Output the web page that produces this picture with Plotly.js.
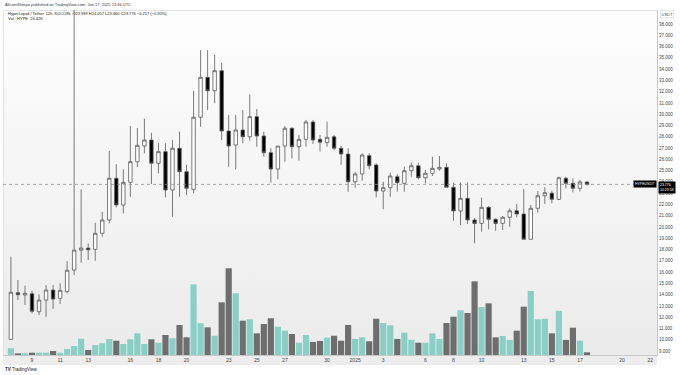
<!DOCTYPE html>
<html><head><meta charset="utf-8">
<script src="https://cdn.plot.ly/plotly-3.0.1.min.js"></script>
<style>
html,body{margin:0;padding:0;background:#fff;}
#wrap{position:relative;width:680px;height:375px;overflow:hidden;background:#fff;}
#pane{position:absolute;left:3px;top:10px;width:654px;height:345px;background:linear-gradient(#fefefe,#ebebeb);border-top:1px solid #e4e4e4;border-left:1px solid #e4e4e4;box-sizing:border-box;}
#strip{position:absolute;left:3px;top:355px;width:654px;height:10px;background:#ededed;}
#chart{position:absolute;left:0;top:0;width:680px;height:375px;}
</style></head>
<body><div id="wrap"><div id="pane"></div><div id="strip"></div><div id="chart"></div></div>
<script>
// 12h candles, HYPE/USDT (KuCoin)
const candleTimes = [
'2024-12-07 12:00',
'2024-12-08 00:00','2024-12-08 12:00','2024-12-09 00:00','2024-12-09 12:00','2024-12-10 00:00','2024-12-10 12:00',
'2024-12-11 00:00','2024-12-11 12:00','2024-12-12 00:00','2024-12-12 12:00','2024-12-13 00:00','2024-12-13 12:00',
'2024-12-14 00:00','2024-12-14 12:00','2024-12-15 00:00','2024-12-15 12:00','2024-12-16 00:00','2024-12-16 12:00',
'2024-12-17 00:00','2024-12-17 12:00','2024-12-18 00:00','2024-12-18 12:00','2024-12-19 00:00','2024-12-19 12:00',
'2024-12-20 00:00','2024-12-20 12:00','2024-12-21 00:00','2024-12-21 12:00','2024-12-22 00:00','2024-12-22 12:00',
'2024-12-23 00:00','2024-12-23 12:00','2024-12-24 00:00','2024-12-24 12:00','2024-12-25 00:00','2024-12-25 12:00',
'2024-12-26 00:00','2024-12-26 12:00','2024-12-27 00:00','2024-12-27 12:00','2024-12-28 00:00','2024-12-28 12:00',
'2024-12-29 00:00','2024-12-29 12:00','2024-12-30 00:00','2024-12-30 12:00','2024-12-31 00:00','2024-12-31 12:00',
'2025-01-01 00:00','2025-01-01 12:00','2025-01-02 00:00','2025-01-02 12:00','2025-01-03 00:00','2025-01-03 12:00',
'2025-01-04 00:00','2025-01-04 12:00','2025-01-05 00:00','2025-01-05 12:00','2025-01-06 00:00','2025-01-06 12:00',
'2025-01-07 00:00','2025-01-07 12:00','2025-01-08 00:00','2025-01-08 12:00','2025-01-09 00:00','2025-01-09 12:00',
'2025-01-10 00:00','2025-01-10 12:00','2025-01-11 00:00','2025-01-11 12:00','2025-01-12 00:00','2025-01-12 12:00',
'2025-01-13 00:00','2025-01-13 12:00','2025-01-14 00:00','2025-01-14 12:00','2025-01-15 00:00','2025-01-15 12:00',
'2025-01-16 00:00','2025-01-16 12:00','2025-01-17 00:00','2025-01-17 12:00'
];
const openP = [10.04,14.17,13.97,14.08,12.49,13.52,14.41,13.67,14.26,16.18,17.95,18.13,18.02,19.44,20.62,24.32,21.95,23.96,25.79,27.18,
27.71,25.65,26.68,23.28,26.98,24.90,23.34,29.73,33.27,32.08,33.86,28.51,27.27,28.60,28.00,29.78,28.07,26.59,25.14,27.18,
28.75,27.12,27.77,29.31,27.77,27.48,28.00,26.98,26.47,24.01,24.70,26.32,25.50,23.19,23.48,24.46,23.87,24.99,25.43,24.37,
24.76,25.14,25.29,23.52,21.42,22.54,20.62,20.32,21.74,20.68,20.32,20.86,21.44,21.15,18.91,21.66,22.77,23.00,22.45,24.32,
23.87,23.43,23.989];
const highP = [17.36,15.30,14.79,14.35,14.03,14.85,14.85,15.00,16.98,45.00,23.34,18.55,20.38,21.35,26.74,25.56,25.11,28.95,28.78,29.60,
28.36,27.47,27.42,27.71,28.45,25.50,32.06,35.69,35.69,35.25,34.57,29.93,29.93,30.37,31.77,30.46,28.45,26.98,27.18,28.95,
28.84,28.16,29.49,29.49,28.16,29.34,28.16,27.18,26.98,24.90,26.53,26.53,25.65,24.01,24.81,24.67,25.35,25.70,25.70,25.05,
26.23,26.29,25.65,23.93,23.96,23.96,20.77,22.60,21.86,20.77,20.97,21.66,22.04,23.34,21.95,23.19,23.52,23.22,24.46,24.46,
24.32,24.17,24.057];
const lowP = [10.00,13.52,13.08,12.34,12.19,12.04,12.73,13.17,14.12,15.74,16.83,17.07,17.01,19.14,20.32,21.74,21.21,22.68,25.32,26.53,
23.81,24.76,22.63,20.91,22.68,22.84,22.99,28.89,30.37,30.97,27.71,25.35,25.11,27.42,27.65,27.12,26.23,23.93,24.23,25.79,
26.09,25.88,27.12,27.36,26.68,27.12,26.83,25.50,23.13,23.48,24.10,25.11,22.63,21.57,22.68,23.13,23.13,24.46,24.23,23.87,
24.52,24.99,23.52,20.56,20.17,20.26,18.55,19.58,19.79,19.67,19.73,20.02,20.86,18.91,18.91,21.27,22.04,22.10,22.39,23.43,
23.07,23.13,23.660];
const closeP = [14.21,14.00,14.12,12.52,13.52,14.41,13.61,14.38,16.16,17.95,18.13,17.98,19.44,20.62,24.32,21.95,23.96,25.79,27.24,27.71,
25.65,26.68,23.28,26.98,24.90,23.43,29.73,33.27,32.08,33.86,28.51,27.18,28.60,28.00,29.78,28.07,26.59,25.14,27.18,28.75,
27.12,27.77,29.31,27.71,27.51,27.95,26.98,26.47,24.01,24.70,26.38,25.43,23.19,23.48,24.52,23.93,24.99,25.43,24.37,24.76,
25.20,25.29,23.52,21.42,22.54,20.62,20.32,21.74,20.68,20.32,20.86,21.44,21.15,18.91,21.66,22.77,23.04,22.45,24.37,23.87,
23.43,23.993,23.776];
// volume in thousands of HYPE
const volumeK = [61,15,15,21,21,21,36,21,54,81,147,45,90,106,145,129,99,142,196,99,
142,111,181,151,271,160,639,287,250,174,476,784,558,310,323,196,280,332,256,220,
190,111,181,118,127,156,174,129,271,145,160,124,328,289,268,145,202,138,111,111,
196,145,289,346,404,380,666,434,467,160,172,136,220,437,579,323,328,196,400,136,
247,129,24.42];

const tickDates = ['2024-12-09','2024-12-11','2024-12-13','2024-12-16','2024-12-18','2024-12-20','2024-12-23','2024-12-25','2024-12-27','2024-12-30',
'2025-01-01','2025-01-03','2025-01-06','2025-01-08','2025-01-10','2025-01-13','2025-01-15','2025-01-17','2025-01-20','2025-01-22'];
const tickLabels = ['9','11','13','16','18','20','23','25','27','30','2025','3','6','8','10','13','15','17','20','22'];
const priceTicks = [9,10,11,12,13,14,15,16,17,18,19,20,21,22,23,24,25,26,27,28,29,30,31,32,33,34,35,36,37,38];

const UP_VOL = '#89cfc5', DOWN_VOL = '#6e6e6e';
const volColors = closeP.map((c,i)=> c >= openP[i] ? UP_VOL : DOWN_VOL);
const n = closeP.length - 1;
const lastO = openP[n], lastH = highP[n], lastL = lowP[n], lastC = closeP[n];
const chg = lastC - closeP[n-1];
const pct = chg / closeP[n-1] * 100;
const fmt = v => v.toFixed(3);

const FONT = 'Liberation Sans, Arial, sans-serif';

const volTrace = {
  type:'bar', x:candleTimes, y:volumeK, xaxis:'x', yaxis:'y',
  marker:{color:volColors, line:{width:0}}, hoverinfo:'skip', showlegend:false
};
const candleTrace = {
  type:'candlestick', x:candleTimes, open:openP, high:highP, low:lowP, close:closeP,
  xaxis:'x', yaxis:'y2', whiskerwidth:0,
  increasing:{line:{color:'#5a5a5a', width:0.8}, fillcolor:'#ffffff'},
  decreasing:{line:{color:'#5a5a5a', width:0.8}, fillcolor:'#000000'},
  hoverinfo:'skip', showlegend:false
};

const layout = {
  width:680, height:375,
  margin:{l:3, r:23, t:10, b:20, pad:0},
  paper_bgcolor:'rgba(0,0,0,0)', plot_bgcolor:'rgba(0,0,0,0)',
  font:{family:FONT, color:'#333', size:5},
  showlegend:false, bargap:0.12,
  xaxis:{type:'date', range:['2024-12-06 22:28','2025-01-22 11:37'],
    tickmode:'array', tickvals:tickDates, ticktext:tickLabels,
    tickfont:{size:5, color:'#444', family:FONT}, ticks:'', showgrid:false, zeroline:false,
    showline:true, linecolor:'#c8c8c8', linewidth:1, rangeslider:{visible:false}, fixedrange:true},
  yaxis:{range:[0, 3119], visible:false, fixedrange:true},
  yaxis2:{overlaying:'y', side:'right', anchor:'x', range:[8.65, 39.24],
    tickmode:'array', tickvals:priceTicks, ticktext:priceTicks.map(v=>v.toFixed(3)),
    tickfont:{size:4.5, color:'#444', family:FONT}, ticks:'', showgrid:false, zeroline:false,
    showline:true, linecolor:'#c8c8c8', linewidth:1, fixedrange:true},
  shapes:[
    {type:'line', xref:'paper', x0:0, x1:1, yref:'y2', y0:lastC, y1:lastC,
     line:{color:'#8a8a8a', width:0.7, dash:'dot'}}
  ],
  annotations:[
    {xref:'paper', yref:'paper', x:0, y:1.0145, xanchor:'left', yanchor:'middle', showarrow:false,
     text:'AltcoinSherpa published on TradingView.com, Jan 17, 2025 13:36 UTC', font:{size:4, color:'#333', family:FONT}},
    {xref:'paper', yref:'paper', x:0.0046, y:0.9913, xanchor:'left', yanchor:'middle', showarrow:false,
     text:'HyperLiquid / Tether, 12h, KUCOIN  O'+fmt(lastO)+' H'+fmt(lastH)+' L'+fmt(lastL)+' C'+fmt(lastC)+
          ' '+(chg<0?'\u2212':'+')+Math.abs(chg).toFixed(3)+' ('+(pct<0?'\u2212':'+')+Math.abs(pct).toFixed(2)+'%)',
     font:{size:4, color:'#222', family:FONT}},
    {xref:'paper', yref:'paper', x:0.0046, y:0.974, xanchor:'left', yanchor:'middle', showarrow:false,
     text:'Vol \u00b7 HYPE  '+volumeK[n].toFixed(2)+'K', font:{size:4, color:'#222', family:FONT}},
    {xref:'paper', yref:'paper', x:1, y:0.988, xanchor:'left', yanchor:'middle', xshift:3, showarrow:false,
     text:'USDT', font:{size:4, color:'#444', family:FONT}, bordercolor:'#d0d0d0', borderwidth:0.5, borderpad:1, bgcolor:'#fff'},
    {xref:'paper', yref:'y2', x:1, y:lastC, xanchor:'right', yanchor:'middle', showarrow:false,
     text:'HYPEUSDT', font:{size:3.5, color:'#fff', family:FONT}, bgcolor:'#000', borderpad:1},
    {xref:'paper', yref:'y2', x:1, y:lastC, xanchor:'left', yanchor:'top', yshift:3, xshift:1, showarrow:false,
     text:fmt(lastC)+'<br>10:23:58', align:'left', font:{size:3.5, color:'#fff', family:FONT}, bgcolor:'#000', borderpad:1},
    {xref:'paper', yref:'paper', x:0, y:-0.0406, xanchor:'left', yanchor:'middle', showarrow:false,
     text:'<b>TV</b> TradingView', font:{size:4.5, color:'#222', family:FONT}}
  ]
};

Plotly.newPlot('chart', [volTrace, candleTrace], layout, {displayModeBar:false, staticPlot:true});
</script></body></html>
